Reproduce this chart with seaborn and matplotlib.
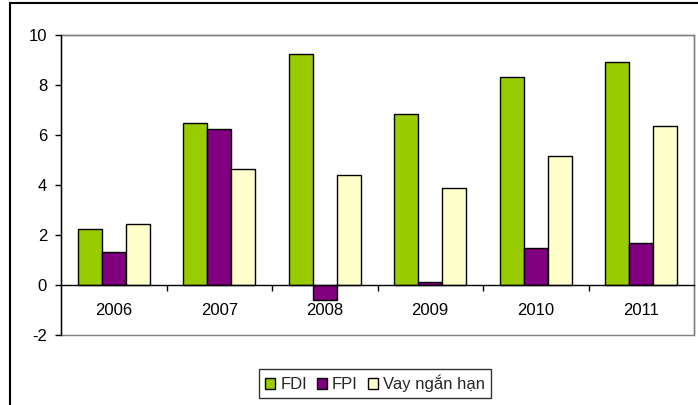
import matplotlib
matplotlib.use("Agg")
import matplotlib.pyplot as plt
import seaborn as sns
import pandas as pd
from matplotlib.patches import Rectangle
from matplotlib.ticker import FixedLocator

years = ["2006", "2007", "2008", "2009", "2010", "2011"]
fdi = [2.25, 6.47, 9.25, 6.85, 8.31, 8.93]
fpi = [1.32, 6.23, -0.59, 0.13, 1.49, 1.69]
vay = [2.45, 4.65, 4.40, 3.89, 5.16, 6.35]
series_names = ["FDI", "FPI", "Vay ngắn hạn"]
colors = ["#99CC00", "#800080", "#FFFFCC"]

rows = []
for name, vals in zip(series_names, [fdi, fpi, vay]):
    for y, v in zip(years, vals):
        rows.append({"year": y, "series": name, "value": v})
df = pd.DataFrame(rows)

sns.set_theme(style="white")
plt.rcParams["font.family"] = ["Liberation Sans", "DejaVu Sans"]
plt.rcParams["axes.unicode_minus"] = False

fig = plt.figure(figsize=(6.98, 4.05), dpi=100)
ax = fig.add_axes([61/698, 70/405, 633/698, 300/405])

sns.barplot(data=df, x="year", y="value", hue="series", order=years,
            hue_order=series_names, palette=colors, width=0.68, gap=0,
            edgecolor="black", linewidth=1.0, saturation=1, ax=ax, legend=True)

ax.set_xlim(-0.5, 5.5)
ax.set_ylim(-2, 10)
ax.set_yticks([-2, 0, 2, 4, 6, 8, 10])
ax.set_xlabel("")
ax.set_ylabel("")

# spines
for s in ["top", "right"]:
    ax.spines[s].set_color("#808080")
    ax.spines[s].set_linewidth(1.0)
ax.spines["left"].set_color("black")
ax.spines["left"].set_linewidth(1.0)
ax.spines["bottom"].set_position(("data", 0))
ax.spines["bottom"].set_color("black")
ax.spines["bottom"].set_linewidth(1.0)
ax.add_patch(Rectangle((0, 0), 1, 1, transform=ax.transAxes, fill=False,
                       edgecolor="#808080", linewidth=1.0, zorder=0.5, clip_on=False))
ax.spines["left"].set_zorder(3)

# x ticks: major at boundaries, labels at centers
ax.xaxis.set_major_locator(FixedLocator([0.5, 1.5, 2.5, 3.5, 4.5]))
ax.xaxis.set_minor_locator(FixedLocator(range(len(years))))
ax.set_xticklabels([], minor=False)
ax.set_xticklabels(years, minor=True)
ax.tick_params(axis="x", which="major", direction="out", length=4, width=1, color="black", bottom=True)
ax.tick_params(axis="x", which="minor", length=0, pad=13, labelsize=12, colors="black", bottom=True)
ax.tick_params(axis="y", direction="out", length=4, width=1, color="black", pad=6,
               labelsize=12, labelcolor="black", left=True)

ax.grid(False)

leg = ax.legend(loc="center", bbox_to_anchor=(375/698, 1 - 383.5/405),
                bbox_transform=fig.transFigure, ncol=3, fontsize=12,
                frameon=True, fancybox=False, edgecolor="black",
                handlelength=0.6, handleheight=0.6, handletextpad=0.3,
                columnspacing=0.6, borderpad=0.35, borderaxespad=0)
leg.get_frame().set_linewidth(1.0)
for h in leg.legend_handles:
    h.set_edgecolor("black")
    h.set_linewidth(1.0)

# outer border
fig.patches.append(Rectangle((10/698, -0.02), 1.0, 1 - 3/405 + 0.02,
                             transform=fig.transFigure, fill=False,
                             edgecolor="black", linewidth=1.5))

fig.savefig("out.png", dpi=100)
